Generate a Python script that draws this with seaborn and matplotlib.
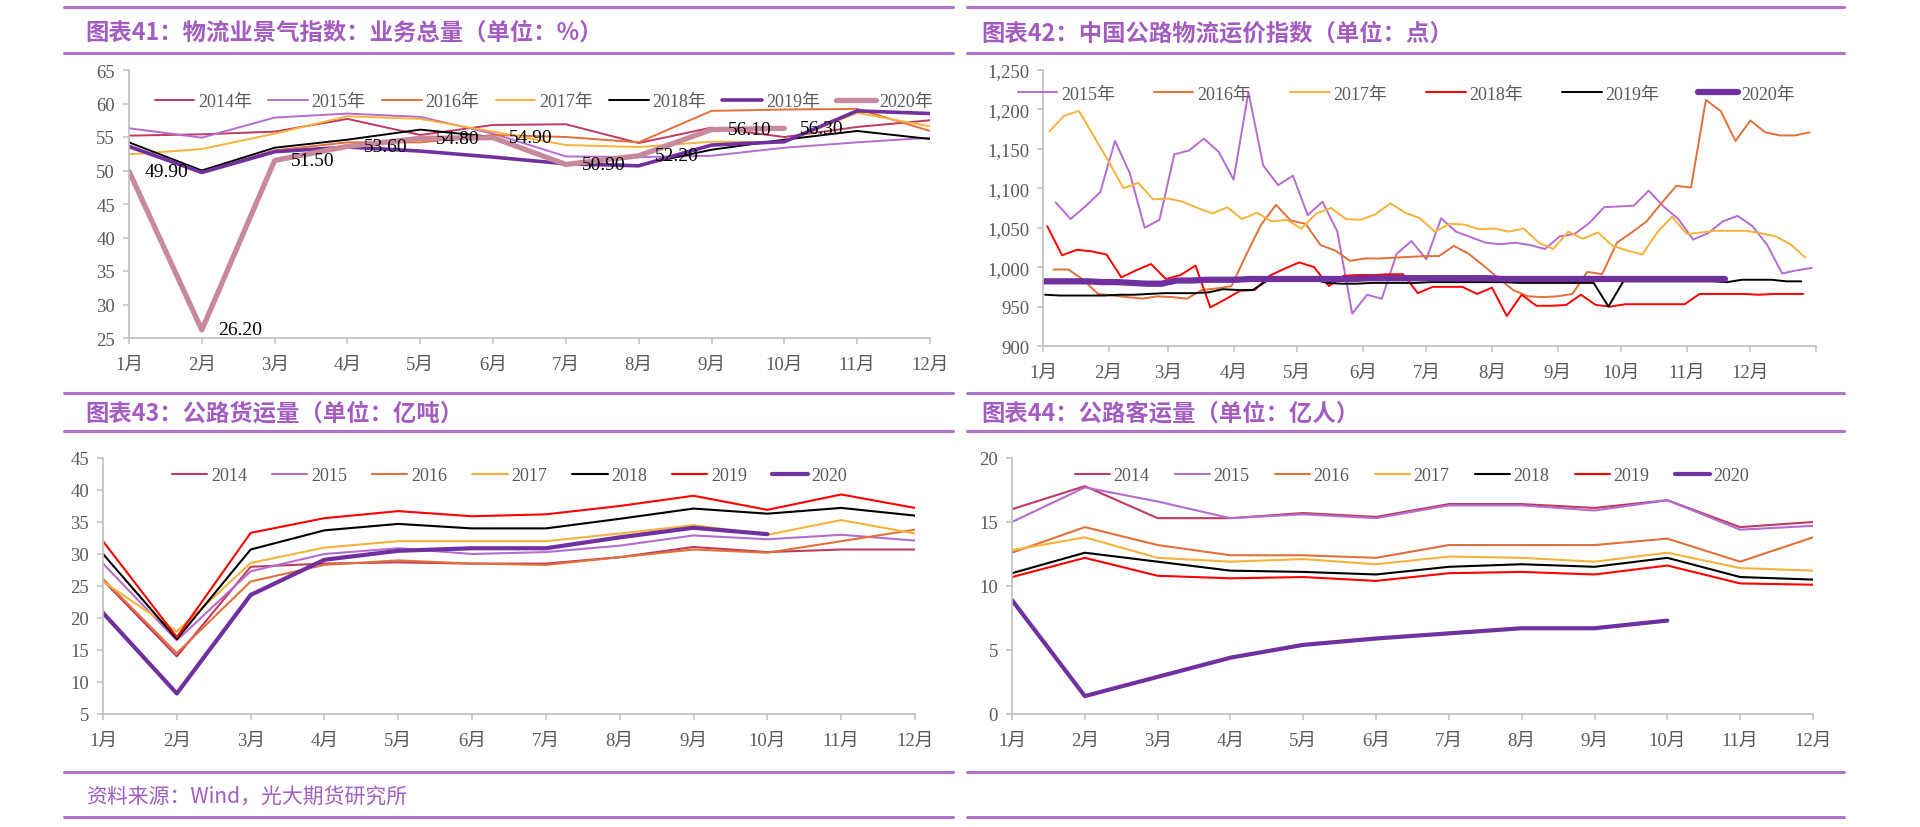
import numpy as np
import pandas as pd
import matplotlib
matplotlib.use("Agg")
import matplotlib.pyplot as plt
from matplotlib.lines import Line2D
from matplotlib.ticker import FuncFormatter
import seaborn as sns

sns.set_theme(style="white")
plt.rcParams["font.family"] = ["Liberation Serif", "Noto Sans CJK SC"]
plt.rcParams["axes.unicode_minus"] = False

W, H = 1920, 828
RULE_C = "#B273CC"
TITLE_C = "#A35DC0"
GRAY_TXT = "#595959"
SPINE_C = "#BFBFBF"

# ---- data ----
months = ["1月", "2月", "3月", "4月", "5月", "6月", "7月", "8月", "9月", "10月", "11月", "12月"]

# chart 41: logistics prosperity index, business volume (%)
lpi_2014 = [55.2, 55.4, 55.8, 57.7, 55.3, 56.8, 56.9, 54.1, 56.4, 55.0, 56.5, 57.5]
lpi_2015 = [56.3, 54.9, 57.9, 58.5, 58.0, 55.5, 52.1, 52.0, 52.2, 53.4, 54.2, 54.9]
lpi_2016 = [53.4, 49.8, 53.0, 54.2, 54.2, 55.3, 55.0, 54.2, 58.9, 59.1, 59.2, 55.9]
lpi_2017 = [52.4, 53.2, 55.5, 58.1, 57.7, 55.8, 53.8, 53.5, 54.3, 54.2, 58.6, 56.6]
lpi_2018 = [54.2, 50.0, 53.4, 54.6, 56.1, 55.0, 51.0, 50.8, 53.1, 54.6, 55.9, 54.7]
lpi_2019 = [53.6, 49.7, 52.8, 53.5, 52.9, 52.0, 51.0, 50.7, 53.8, 54.3, 58.9, 58.5]
lpi_2020 = [49.9, 26.2, 51.5, 53.6, 54.8, 54.9, 50.9, 52.2, 56.1, 56.3]

# chart 42: China road logistics freight index (weekly, points)
fi_start = ["01-07", "01-06", "01-04", "01-03", "01-02", "01-01"]
fi_2015 = [1082, 1061, 1077, 1095, 1160, 1119, 1050, 1060, 1143, 1148, 1163, 1146, 1111,
           1222, 1129, 1104, 1116, 1066, 1083, 1045, 941, 965, 960, 1017, 1033, 1010,
           1062, 1045, 1038, 1031, 1029, 1031, 1028, 1023, 1039, 1042, 1056, 1076, 1077,
           1078, 1097, 1077, 1061, 1035, 1043, 1058, 1065, 1052, 1028, 992, 996, 999]
fi_2016 = [997, 997, 984, 966, 964, 962, 960, 963, 962, 960, 971, 973, 976, 1016, 1054,
           1079, 1059, 1055, 1028, 1021, 1008, 1011, 1011, 1012, 1013, 1014, 1014, 1027,
           1017, 1002, 986, 971, 963, 962, 963, 966, 994, 991, 1031, 1044, 1058, 1081,
           1103, 1101, 1212, 1198, 1160, 1186, 1171, 1167, 1167, 1171]
fi_2017 = [1172, 1192, 1198, 1166, 1134, 1100, 1107, 1086, 1087, 1083, 1075, 1068, 1076,
           1061, 1069, 1058, 1060, 1049, 1068, 1075, 1061, 1060, 1067, 1081, 1069, 1062,
           1045, 1055, 1054, 1048, 1049, 1045, 1049, 1031, 1023, 1045, 1036, 1044, 1027,
           1021, 1016, 1044, 1064, 1042, 1044, 1046, 1046, 1046, 1043, 1039, 1029, 1012]
fi_2018 = [1052, 1015, 1022, 1020, 1016, 987, 996, 1004, 985, 990, 1002, 949, 959, 970,
           971, 989, 998, 1006, 1000, 976, 989, 990, 990, 991, 991, 967, 975, 975, 975,
           966, 974, 938, 965, 951, 951, 952, 965, 952, 950, 953, 953, 953, 953, 953, 966,
           966, 966, 966, 965, 966, 966, 966]
fi_2019 = [965, 964, 964, 964, 964, 965, 965, 966, 967, 967, 967, 968, 972, 971, 971, 983,
           983, 984, 985, 980, 979, 979, 980, 980, 980, 980, 981, 981, 981, 981, 981, 981,
           980, 980, 980, 980, 980, 980, 950, 982, 982, 982, 982, 982, 982, 982, 981, 984,
           984, 984, 982, 982]
fi_2020 = [982, 982, 982, 982, 981, 981, 980, 979, 979, 983, 983, 984, 984, 984, 985, 985,
           985, 985, 985, 985, 985, 985, 986, 986, 986, 986, 986, 986, 986, 986, 986, 985,
           985, 985, 985, 985, 985, 985, 985, 985, 985, 985, 985, 985, 985, 985, 985]

# chart 43: road freight volume (100 million tons)
fr_2014 = [25.9, 14.0, 28.0, 28.5, 28.7, 28.5, 28.5, 29.5, 31.1, 30.3, 30.7, 30.7]
fr_2015 = [28.5, 16.5, 27.3, 30.0, 30.9, 30.0, 30.3, 31.3, 32.9, 32.3, 33.0, 32.1]
fr_2016 = [26.1, 14.5, 25.7, 28.3, 29.0, 28.5, 28.3, 29.5, 30.7, 30.2, 32.0, 33.8]
fr_2017 = [25.7, 17.9, 28.6, 31.0, 32.0, 32.0, 32.0, 33.2, 34.5, 33.0, 35.3, 33.2]
fr_2018 = [30.0, 16.7, 30.7, 33.7, 34.7, 34.0, 34.0, 35.5, 37.1, 36.3, 37.2, 36.0]
fr_2019 = [32.0, 17.0, 33.3, 35.6, 36.7, 35.9, 36.2, 37.5, 39.1, 36.9, 39.3, 37.2]
fr_2020 = [20.8, 8.2, 23.6, 29.1, 30.5, 30.9, 30.9, 32.6, 34.1, 33.1]

# chart 44: road passenger volume (100 million people)
ps_2014 = [16.0, 17.8, 15.3, 15.3, 15.7, 15.4, 16.4, 16.4, 16.1, 16.7, 14.6, 15.0]
ps_2015 = [15.0, 17.7, 16.6, 15.3, 15.6, 15.3, 16.3, 16.3, 15.9, 16.7, 14.4, 14.7]
ps_2016 = [12.6, 14.6, 13.2, 12.4, 12.4, 12.2, 13.2, 13.2, 13.2, 13.7, 11.9, 13.8]
ps_2017 = [12.8, 13.8, 12.2, 11.9, 12.1, 11.7, 12.3, 12.2, 11.9, 12.6, 11.4, 11.2]
ps_2018 = [11.0, 12.6, 11.9, 11.2, 11.1, 10.9, 11.5, 11.7, 11.5, 12.2, 10.7, 10.5]
ps_2019 = [10.7, 12.2, 10.8, 10.6, 10.7, 10.4, 11.0, 11.1, 10.9, 11.6, 10.2, 10.1]
ps_2020 = [8.9, 1.4, 2.9, 4.4, 5.4, 5.9, 6.3, 6.7, 6.7, 7.3]

C_2014 = "#C0395F"
C_2015 = "#B46CD0"
C_2016 = "#E2703A"
C_2017 = "#F7B23B"
C_RED = "#FF0000"
C_BLACK = "#000000"
C_PURPLE = "#7030A0"
C_PINK = "#C9899C"

fig = plt.figure(figsize=(19.2, 8.28), dpi=100)


def px_axes(x0, x1, ytop, ybot):
    return fig.add_axes([x0 / W, 1 - ybot / H, (x1 - x0) / W, (ybot - ytop) / H])


def style_axes(ax):
    sns.despine(ax=ax)
    for s in ["left", "bottom"]:
        ax.spines[s].set_color(SPINE_C)
        ax.spines[s].set_linewidth(1.2)
    ax.tick_params(axis="both", direction="out", length=4, width=1.1, color=SPINE_C,
                   labelcolor=GRAY_TXT, labelsize=13.5, left=True, bottom=True)
    ax.tick_params(axis="y", pad=6)
    ax.tick_params(axis="x", pad=9)
    ax.grid(False)
    ax.set_xlabel("")
    ax.set_ylabel("")


def hrule(x0, x1, y):
    fig.add_artist(Line2D([x0 / W, x1 / W], [1 - y / H, 1 - y / H], color=RULE_C,
                          lw=2.2, transform=fig.transFigure))


def title(x, y, s):
    fig.text(x / W, 1 - y / H, s, fontsize=16.8, fontweight="bold", color=TITLE_C,
             va="center", ha="left", family=["Noto Sans CJK SC"])


# header rules and titles
for y in [8, 54, 394, 432, 773, 818]:
    hrule(64, 953, y)
    hrule(967, 1844, y)
title(85, 33, "图表41：物流业景气指数：业务总量（单位：%）")
title(981, 33, "图表42：中国公路物流运价指数（单位：点）")
title(85, 413, "图表43：公路货运量（单位：亿吨）")
title(981, 413, "图表44：公路客运量（单位：亿人）")
fig.text(86 / W, 1 - 797 / H, "资料来源：Wind，光大期货研究所", fontsize=15, color=TITLE_C,
         va="center", ha="left", style="italic", family=["Noto Sans CJK SC"])

# ---- chart 41 ----
ax1 = px_axes(129, 930, 71, 339)
m = np.arange(1, 13)
series1 = [("2014年", lpi_2014, C_2014, 1.4), ("2015年", lpi_2015, C_2015, 1.4),
           ("2016年", lpi_2016, C_2016, 1.4), ("2017年", lpi_2017, C_2017, 1.4),
           ("2018年", lpi_2018, C_BLACK, 1.4), ("2019年", lpi_2019, C_PURPLE, 2.6),
           ("2020年", lpi_2020, C_PINK, 3.8)]
for lab, vals, c, lw in series1:
    sns.lineplot(x=m[:len(vals)], y=vals, ax=ax1, color=c, linewidth=lw, label=lab, legend=False)
for i, v in enumerate(lpi_2020):
    ax1.annotate(f"{v:.2f}", (m[i], v), xytext=(16, 0), textcoords="offset pixels",
                 ha="left", va="center", fontsize=14, color="black")
ax1.set_xlim(1, 12)
ax1.set_ylim(25, 65)
ax1.set_yticks(np.arange(25, 66, 5))
ax1.set_xticks(m)
ax1.set_xticklabels(months)
style_axes(ax1)
ax1.legend(loc="center", bbox_to_anchor=(0.518, 0.881), ncol=7, frameon=False, fontsize=13,
           handlelength=2.2, handletextpad=0.2, columnspacing=0.9, labelcolor=GRAY_TXT)

# ---- chart 42 ----
ax2 = px_axes(1043, 1816, 71, 347)
base = pd.Timestamp("2019-01-01")
series2 = [("2015年", fi_2015, C_2015, 1.4), ("2016年", fi_2016, C_2016, 1.4),
           ("2017年", fi_2017, C_2017, 1.4), ("2018年", fi_2018, C_RED, 1.4),
           ("2019年", fi_2019, C_BLACK, 1.4), ("2020年", fi_2020, C_PURPLE, 4.5)]
for (lab, vals, c, lw), st in zip(series2, fi_start):
    d0 = (pd.Timestamp(f"2019-{st}") - base).days
    days = d0 + 7 * np.arange(len(vals))
    sns.lineplot(x=days, y=vals, ax=ax2, color=c, linewidth=lw, label=lab, legend=False)
mstarts = [(d - base).days for d in pd.date_range("2019-01-01", periods=13, freq="MS")]
ax2.set_xlim(0, mstarts[-1])
ax2.set_ylim(900, 1250)
ax2.set_yticks(np.arange(900, 1251, 50))
ax2.yaxis.set_major_formatter(FuncFormatter(lambda v, p: f"{v:,.0f}"))
ax2.set_xticks(mstarts)
ax2.set_xticklabels(months + [""])
style_axes(ax2)
ax2.legend(loc="center", bbox_to_anchor=(0.470, 0.913), ncol=6, frameon=False, fontsize=13,
           handlelength=2.2, handletextpad=0.2, columnspacing=2.15, labelcolor=GRAY_TXT)

# ---- chart 43 / 44 ----
def yearly_panel(ax, data, ylim, legend_x):
    for lab, vals, c, lw in data:
        sns.lineplot(x=m[:len(vals)], y=vals, ax=ax, color=c, linewidth=lw, label=lab, legend=False)
    ax.set_xlim(1, 12)
    ax.set_ylim(*ylim)
    ax.set_yticks(np.arange(ylim[0], ylim[1] + 1, 5))
    ax.set_xticks(m)
    ax.set_xticklabels(months)
    style_axes(ax)
    ax.legend(loc="center", bbox_to_anchor=(legend_x, 0.93), ncol=7, frameon=False, fontsize=13,
              handlelength=1.95, handletextpad=0.2, columnspacing=1.4, labelcolor=GRAY_TXT)


ax3 = px_axes(103, 915, 459, 715)
yearly_panel(ax3, [("2014", fr_2014, C_2014, 1.5), ("2015", fr_2015, C_2015, 1.5),
                   ("2016", fr_2016, C_2016, 1.5), ("2017", fr_2017, C_2017, 1.5),
                   ("2018", fr_2018, C_BLACK, 1.5), ("2019", fr_2019, C_RED, 1.5),
                   ("2020", fr_2020, C_PURPLE, 3.0)], (5, 45), 0.5006)

ax4 = px_axes(1012, 1813, 459, 715)
yearly_panel(ax4, [("2014", ps_2014, C_2014, 1.5), ("2015", ps_2015, C_2015, 1.5),
                   ("2016", ps_2016, C_2016, 1.5), ("2017", ps_2017, C_2017, 1.5),
                   ("2018", ps_2018, C_BLACK, 1.5), ("2019", ps_2019, C_RED, 1.5),
                   ("2020", ps_2020, C_PURPLE, 3.0)], (0, 20), 0.4994)

fig.savefig("out.png", dpi=100)
